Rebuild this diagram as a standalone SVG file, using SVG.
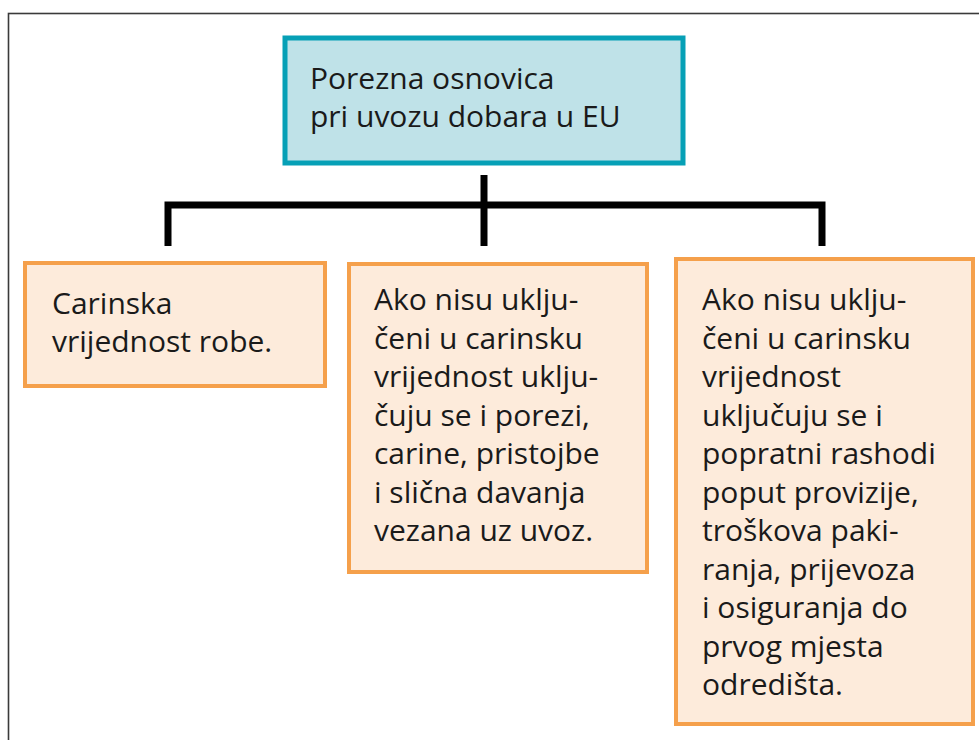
<svg xmlns="http://www.w3.org/2000/svg" width="979" height="740" viewBox="0 0 979 740">
<style>
.t{font-family:"Open Sans","Noto Sans","Liberation Sans",sans-serif;font-size:30px;fill:#1a1a1a}
.ob{fill:#fdebdb;stroke:#f5a04b;stroke-width:4}
.conn{stroke:#000;stroke-width:7;fill:none}
</style>
<rect x="8.5" y="13.5" width="1000" height="760" fill="#fff" stroke="#3a3a3a" stroke-width="1.6"/>
<g id="root">
<rect x="285" y="38" width="398" height="125" fill="#bfe2e8" stroke="#06a0b6" stroke-width="5"/>
<text class="t" x="310" y="89">Porezna osnovica</text>
<text class="t" x="310" y="127">pri uvozu dobara u EU</text>
</g>
<g id="connectors">
<line class="conn" x1="484" y1="175" x2="484" y2="246"/>
<polyline class="conn" points="168,246 168,205 822,205 822,246"/>
</g>
<g id="n1">
<rect class="ob" x="25" y="263" width="300" height="123"/>
<text class="t" x="52" y="314">Carinska</text>
<text class="t" x="52" y="352">vrijednost robe.</text>
</g>
<g id="n2">
<rect class="ob" x="349" y="264" width="298" height="308"/>
<text class="t" x="374"><tspan x="374" y="310">Ako nisu uklju-</tspan><tspan x="374" y="348.5">čeni u carinsku</tspan><tspan x="374" y="387">vrijednost uklju-</tspan><tspan x="374" y="425.5">čuju se i porezi,</tspan><tspan x="374" y="464">carine, pristojbe</tspan><tspan x="374" y="502.5">i slična davanja</tspan><tspan x="374" y="541">vezana uz uvoz.</tspan></text>
</g>
<g id="n3">
<rect class="ob" x="676" y="259" width="297" height="465"/>
<text class="t" x="702"><tspan x="702" y="310">Ako nisu uklju-</tspan><tspan x="702" y="348.5">čeni u carinsku</tspan><tspan x="702" y="387">vrijednost</tspan><tspan x="702" y="425.5">uključuju se i</tspan><tspan x="702" y="464">popratni rashodi</tspan><tspan x="702" y="502.5">poput provizije,</tspan><tspan x="702" y="541">troškova paki-</tspan><tspan x="702" y="579.5">ranja, prijevoza</tspan><tspan x="702" y="618">i osiguranja do</tspan><tspan x="702" y="656.5">prvog mjesta</tspan><tspan x="702" y="695">odredišta.</tspan></text>
</g>
</svg>
